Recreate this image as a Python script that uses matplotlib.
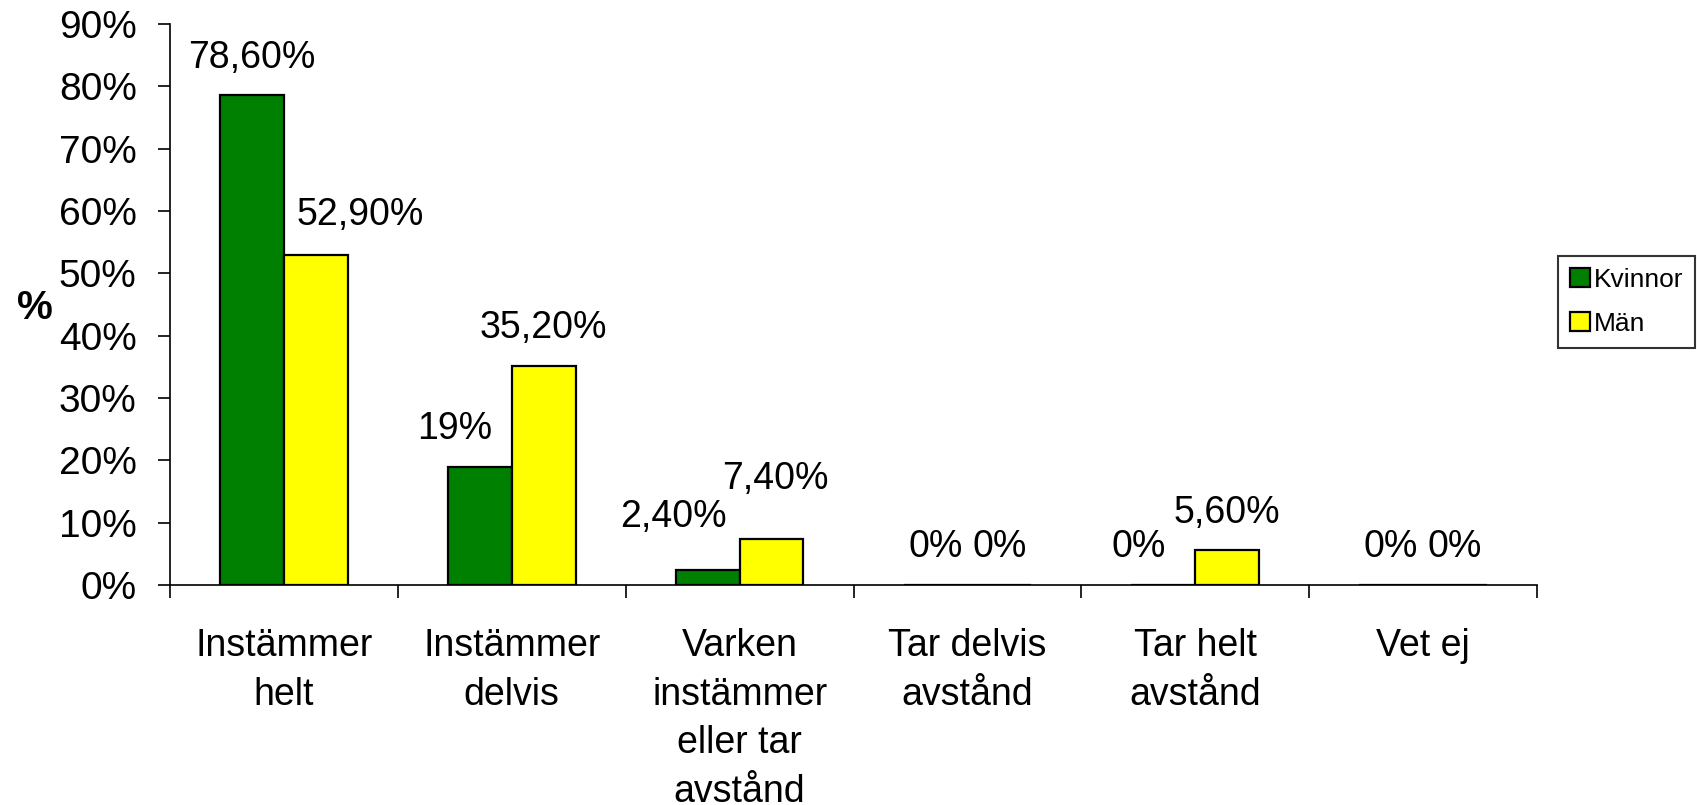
import numpy as np
import matplotlib.pyplot as plt
from matplotlib.ticker import FixedLocator

plt.rcParams['font.family'] = ['Liberation Sans', 'DejaVu Sans']

# Data
categories = ['Instämmer\nhelt', 'Instämmer\ndelvis', 'Varken\ninstämmer\neller tar\navstånd',
              'Tar delvis\navstånd', 'Tar helt\navstånd', 'Vet ej']
kvinnor = [78.6, 19, 2.4, 0, 0, 0]
man = [52.9, 35.2, 7.4, 0, 5.6, 0]
kvinnor_labels = ['78,60%', '19%', '2,40%', '0%', '0%', '0%']
man_labels = ['52,90%', '35,20%', '7,40%', '0%', '5,60%', '0%']
yticks = [0, 10, 20, 30, 40, 50, 60, 70, 80, 90]

# label nudges (points) where the labels were moved to avoid overlapping
kvinnor_nudge = [(0, 0), (-18, 0), (-25, 11), (0, 0), (-18, 0), (0, 0)]
man_nudge = [(32, 2), (0, 0), (3, 16), (0, 0), (0, 0), (0, 0)]

fig = plt.figure(figsize=(16.97, 8.05), dpi=100)
ax = fig.add_axes([0.1002, 0.2733, 0.8055, 0.6967])

x = np.arange(len(categories))
w = 0.28
b1 = ax.bar(x - w / 2, kvinnor, w, color='#008000', edgecolor='black', linewidth=1.6, label='Kvinnor')
b2 = ax.bar(x + w / 2, man, w, color='#FFFF00', edgecolor='black', linewidth=1.6, label='Män')

# value labels above bars
for bars, labs, nudges in [(b1, kvinnor_labels, kvinnor_nudge), (b2, man_labels, man_nudge)]:
    for rect, lab, (dx, dy) in zip(bars, labs, nudges):
        ax.annotate(lab, (rect.get_x() + rect.get_width() / 2, rect.get_height()),
                    xytext=(dx, 27 + dy), textcoords='offset points',
                    ha='center', va='center', fontsize=27)

ax.set_xlim(-0.5, len(categories) - 0.5)
ax.set_ylim(0, 90)
ax.set_yticks(yticks)
ax.set_yticklabels([f'{v}%' for v in yticks], fontsize=28)

ax.set_xticks(x)
ax.set_xticklabels(categories, fontsize=27, linespacing=1.45)
ax.xaxis.set_minor_locator(FixedLocator(np.arange(len(categories) + 1) - 0.5))
ax.tick_params(axis='x', which='major', length=0, pad=31)
ax.tick_params(axis='x', which='minor', length=9, width=1.2, direction='out')
ax.tick_params(axis='y', length=9, width=1.2, direction='out', pad=15)
for t in ax.get_yticklabels():
    t.set_y(t.get_position()[1])

ax.spines['top'].set_visible(False)
ax.spines['right'].set_visible(False)
ax.spines['left'].set_linewidth(1.2)
ax.spines['bottom'].set_linewidth(1.2)

ax.set_ylabel('%', fontsize=29, fontweight='bold', rotation=0, va='center', ha='center')
ax.yaxis.set_label_coords(-0.099, 0.494)

leg = ax.legend(loc='upper left', fontsize=19, frameon=True, fancybox=False,
                edgecolor='black', handlelength=0.75, handleheight=0.7,
                handletextpad=0.15, borderpad=0.45, labelspacing=0.75,
                borderaxespad=0, shadow=False)
leg.set_bbox_to_anchor((1558 / 1697, 1 - 256 / 805), transform=fig.transFigure)
leg.get_frame().set_linewidth(1.5)

fig.savefig('out.png', dpi=100)
